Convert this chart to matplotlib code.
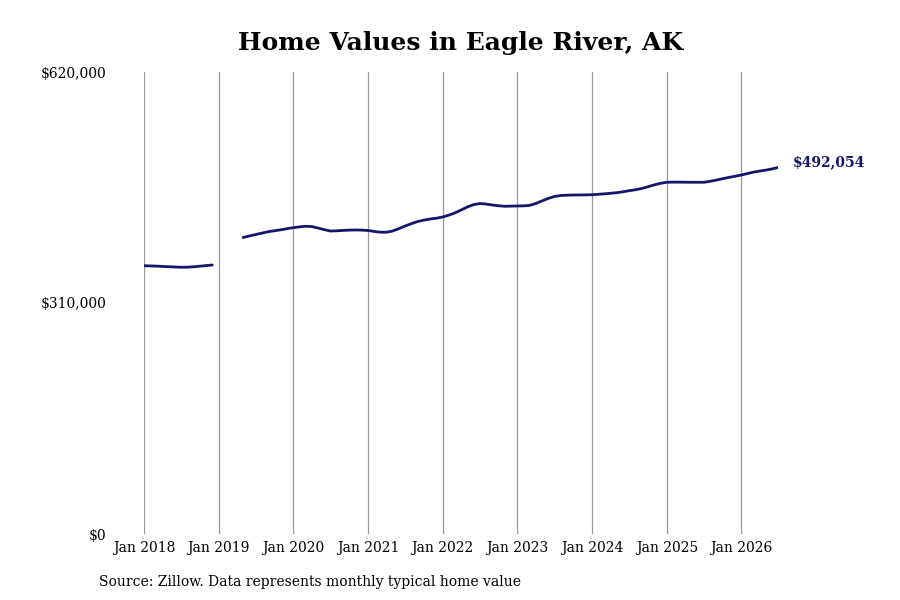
import matplotlib
matplotlib.use("Agg")
import matplotlib.pyplot as plt
import numpy as np
import pandas as pd

# Segment 1: Jan 2018 - Dec 2018
seg1_start = "2018-01-01"
seg1_values = [360000, 359800, 359500, 359100, 358700, 358300,
               358000, 358100, 358600, 359400, 360200, 361000]

# Segment 2: May 2019 - Jul 2026
seg2_start = "2019-05-01"
seg2_values = [
    397900, 400000, 401900, 403800, 405700, 407000, 408200, 409700,  # May-Dec 2019
    411100, 412200, 413000, 412600, 410600, 408400, 406600, 406900, 407400, 407800, 408000, 407800,  # 2020
    407300, 406000, 405000, 405000, 406600, 409800, 413300, 416500, 419400, 421200, 422700, 423800,  # 2021
    425400, 428000, 430800, 434800, 438800, 442000, 443500, 442800, 441500, 440500, 439800, 440000,  # 2022
    440200, 440400, 440900, 443500, 446900, 450300, 452900, 454200, 454700, 454900, 455000, 455100,  # 2023
    455300, 455900, 456500, 457200, 458000, 459300, 460700, 462000, 463700, 466000, 468500, 470600,  # 2024
    472000, 472200, 472200, 472100, 472000, 472000, 472000, 473300, 475000, 476800, 478500, 480100,  # 2025
    481800, 483800, 485600, 487100, 488300, 490000, 492054,  # Jan-Jul 2026
]

y_ticks = [0, 310000, 620000]
y_tick_labels = ["$0", "$310,000", "$620,000"]
x_tick_years = list(range(2018, 2027))

title = "Home Values in Eagle River, AK"
source = "Source: Zillow. Data represents monthly typical home value"
last_label = "$492,054"

dates1 = pd.date_range(seg1_start, periods=len(seg1_values), freq="MS")
dates2 = pd.date_range(seg2_start, periods=len(seg2_values), freq="MS")

plt.rcParams["font.family"] = ["DejaVu Serif"]

fig = plt.figure(figsize=(9, 6), dpi=100)
ax = fig.add_axes([144 / 900, 1 - 534 / 600, (778.4 - 144) / 900, (534 - 72) / 600])

line_color = "#15156b"
ax.plot(dates1, seg1_values, color=line_color, lw=2.0, solid_capstyle="round")
ax.plot(dates2, seg2_values, color=line_color, lw=2.0, solid_capstyle="round")

ax.set_xlim(dates1[0], dates2[-1])
ax.set_ylim(0, 620000)

ticks = [pd.Timestamp(f"{y}-01-01") for y in x_tick_years]
ax.set_xticks(ticks)
ax.set_xticklabels([f"Jan {y}" for y in x_tick_years], fontsize=10)
ax.grid(axis="x", color="#999999", lw=0.9)
ax.set_axisbelow(True)
ax.set_yticks(y_ticks)
ax.set_yticklabels(y_tick_labels, fontsize=10)
ax.tick_params(axis="both", length=0)
ax.tick_params(axis="x", pad=5)
ax.tick_params(axis="y", pad=27)
for s in ax.spines.values():
    s.set_visible(False)

ax.annotate(last_label, xy=(dates2[-1], seg2_values[-1]), xytext=(10, 4),
            textcoords="offset points", ha="left", va="center",
            fontsize=10, fontweight="bold", color=line_color, annotation_clip=False)

fig.text(461 / 900, 1 - 43 / 600, title, ha="center", va="center",
         fontsize=18, fontweight="bold")
fig.text(99 / 900, 1 - 582 / 600, source, ha="left", va="center", fontsize=10)

fig.savefig("out.png", dpi=100, facecolor="white")
